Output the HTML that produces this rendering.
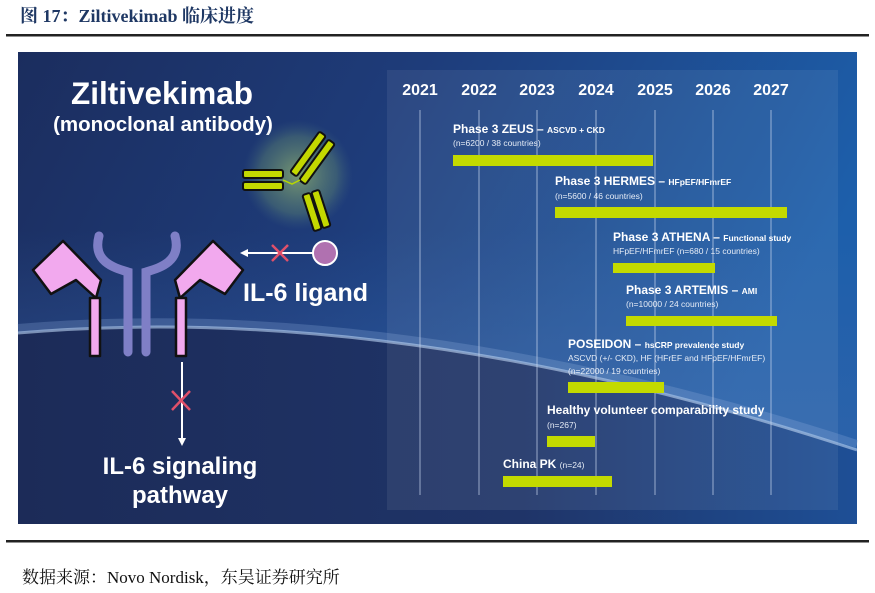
<!DOCTYPE html>
<html><head><meta charset="utf-8"><style>
html,body{margin:0;padding:0;background:#fff;width:875px;height:593px;overflow:hidden}
</style></head><body>
<svg width="875" height="593" viewBox="0 0 875 593" xmlns="http://www.w3.org/2000/svg" font-family="Liberation Sans, Arial, sans-serif">
<defs>
<linearGradient id="bg" x1="0" y1="0" x2="1" y2="0.3">
<stop offset="0" stop-color="#1b2d5e"/><stop offset="0.45" stop-color="#1e3c7a"/><stop offset="1" stop-color="#1d5fab"/>
</linearGradient>
<linearGradient id="low" x1="0" y1="0" x2="1" y2="0">
<stop offset="0" stop-color="#1c2b58"/><stop offset="0.6" stop-color="#1f3468"/><stop offset="1" stop-color="#1e4f96"/>
</linearGradient>
<radialGradient id="glow"><stop offset="0" stop-color="#9fc070" stop-opacity="0.7"/><stop offset="0.7" stop-color="#6f9a70" stop-opacity="0.35"/><stop offset="1" stop-color="#4a7080" stop-opacity="0"/></radialGradient>
<linearGradient id="up" x1="0" y1="0" x2="0" y2="1"><stop offset="0" stop-color="#3a66aa" stop-opacity="0"/><stop offset="1" stop-color="#3a66aa" stop-opacity="0.5"/></linearGradient>
</defs>
<text x="20" y="22" font-family="Liberation Serif, Noto Serif CJK SC, serif" font-weight="bold" font-size="18" fill="#1f3864">图 17：Ziltivekimab 临床进度</text>
<rect x="6" y="34" width="863" height="2.5" fill="#222"/>
<rect x="18" y="52" width="839" height="472" fill="url(#bg)"/>
<path d="M18,230 L857,230 L857,450 Q400,300 18,333 Z" fill="url(#up)"/>
<path d="M18,333 Q400,300 857,450 L857,524 L18,524 Z" fill="url(#low)"/>
<path d="M18,328 Q400,296 857,444" fill="none" stroke="#8fb0e0" stroke-width="8" opacity="0.25"/>
<path d="M18,333 Q400,300 857,450" fill="none" stroke="#b9d2f2" stroke-width="3" opacity="0.6"/>
<rect x="387" y="70" width="451" height="440" fill="#ffffff" opacity="0.07"/>
<g fill="#fff" font-weight="bold" font-size="16" text-anchor="middle">
<text x="420" y="95">2021</text><text x="479" y="95">2022</text><text x="537" y="95">2023</text><text x="596" y="95">2024</text><text x="655" y="95">2025</text><text x="713" y="95">2026</text><text x="771" y="95">2027</text>
</g>
<g stroke="#c8d6ee" stroke-width="1" opacity="0.7">
<line x1="420" y1="110" x2="420" y2="495"/><line x1="479" y1="110" x2="479" y2="495"/><line x1="537" y1="110" x2="537" y2="495"/><line x1="596" y1="110" x2="596" y2="495"/><line x1="655" y1="110" x2="655" y2="495"/><line x1="713" y1="110" x2="713" y2="495"/><line x1="771" y1="110" x2="771" y2="495"/>
</g>
<g fill="#c3da00">
<rect x="453" y="155" width="200" height="11"/>
<rect x="555" y="207" width="232" height="11"/>
<rect x="613" y="263" width="102" height="10"/>
<rect x="626" y="316" width="151" height="10"/>
<rect x="568" y="382" width="96" height="11"/>
<rect x="547" y="436" width="48" height="11"/>
<rect x="503" y="476" width="109" height="11"/>
</g>
<g fill="#fff">
<text x="453" y="133" font-size="12" font-weight="bold">Phase 3 ZEUS – <tspan font-size="8.5">ASCVD + CKD</tspan></text>
<text x="453" y="146" font-size="8.5" fill="#e6ecf6">(n=6200 / 38 countries)</text>
<text x="555" y="185" font-size="12" font-weight="bold">Phase 3 HERMES – <tspan font-size="8.5">HFpEF/HFmrEF</tspan></text>
<text x="555" y="199" font-size="8.5" fill="#e6ecf6">(n=5600 / 46 countries)</text>
<text x="613" y="241" font-size="12" font-weight="bold">Phase 3 ATHENA – <tspan font-size="8.5">Functional study</tspan></text>
<text x="613" y="254" font-size="8.5" fill="#e6ecf6">HFpEF/HFmrEF (n=680 / 15 countries)</text>
<text x="626" y="294" font-size="12" font-weight="bold">Phase 3 ARTEMIS – <tspan font-size="8.5">AMI</tspan></text>
<text x="626" y="307" font-size="8.5" fill="#e6ecf6">(n=10000 / 24 countries)</text>
<text x="568" y="348" font-size="12" font-weight="bold">POSEIDON – <tspan font-size="8.5">hsCRP prevalence study</tspan></text>
<text x="568" y="361" font-size="8.5" fill="#e6ecf6">ASCVD (+/- CKD), HF (HFrEF and HFpEF/HFmrEF)</text>
<text x="568" y="374" font-size="8.5" fill="#e6ecf6">(n=22000 / 19 countries)</text>
<text x="547" y="414" font-size="12" font-weight="bold">Healthy volunteer comparability study</text>
<text x="547" y="428" font-size="8.5" fill="#e6ecf6">(n=267)</text>
<text x="503" y="468" font-size="12" font-weight="bold">China PK <tspan font-size="8.5" font-weight="normal" fill="#e6ecf6">(n=24)</tspan></text>
</g>
<text x="162" y="104" fill="#fff" font-size="31.5" font-weight="bold" text-anchor="middle">Ziltivekimab</text>
<text x="163" y="131" fill="#fff" font-size="20.5" font-weight="bold" text-anchor="middle">(monoclonal antibody)</text>
<circle cx="298" cy="175" r="55" fill="url(#glow)"/>
<g fill="#c3d800" stroke="#111" stroke-width="2">
<rect x="243" y="170" width="40" height="8" rx="2"/>
<rect x="243" y="182" width="40" height="8" rx="2"/>
<rect x="283" y="150" width="50" height="8" rx="2" transform="rotate(-54 308 154)"/>
<rect x="292" y="158" width="50" height="8" rx="2" transform="rotate(-54 317 162)"/>
<rect x="293" y="208" width="38" height="8" rx="2" transform="rotate(72 312 212)"/>
<rect x="302" y="205" width="38" height="8" rx="2" transform="rotate(72 321 209)"/>
</g>
<path d="M283,180 L292,184 L300,180" stroke="#b8d800" stroke-width="1.5" fill="none"/>
<line x1="313" y1="253" x2="246" y2="253" stroke="#fff" stroke-width="2"/>
<path d="M240,253 L248,249 L248,257 Z" fill="#fff"/>
<circle cx="325" cy="253" r="12" fill="#b071b0" stroke="#fff" stroke-width="2"/>
<g stroke="#e0506a" stroke-width="2.5"><line x1="272" y1="245" x2="288" y2="261"/><line x1="288" y1="245" x2="272" y2="261"/></g>
<text x="243" y="301" fill="#fff" font-size="25" font-weight="bold">IL-6 ligand</text>
<g fill="none" stroke="#7f7fc6" stroke-width="9" stroke-linecap="round">
<path d="M99,236 C92,262 115,268 128,272 L128,352"/>
<path d="M175,236 C182,262 159,268 146,272 L146,352"/>
</g>
<g fill="#f2a9ee" stroke="#111" stroke-width="2.5" stroke-linejoin="round">
<path d="M33,270 L63,241 L101,280 L96,298 L76,280 L51,294 Z"/>
<rect x="90" y="298" width="10" height="58"/>
<path d="M243,270 L213,241 L175,280 L180,298 L200,280 L225,294 Z"/>
<rect x="176" y="298" width="10" height="58"/>
</g>
<line x1="182" y1="362" x2="182" y2="440" stroke="#fff" stroke-width="2"/>
<path d="M182,446 L178,438 L186,438 Z" fill="#fff"/>
<g stroke="#e0506a" stroke-width="2.5"><line x1="172" y1="391" x2="190" y2="410"/><line x1="190" y1="391" x2="172" y2="410"/></g>
<text x="180" y="474" fill="#fff" font-size="24" font-weight="bold" text-anchor="middle">IL-6 signaling</text>
<text x="180" y="503" fill="#fff" font-size="24" font-weight="bold" text-anchor="middle">pathway</text>
<rect x="6" y="540" width="863" height="2.5" fill="#222"/>
<text x="22" y="583" font-family="Liberation Serif, Noto Serif CJK SC, serif" font-size="17" fill="#111">数据来源：Novo Nordisk，东吴证券研究所</text>
</svg>
</body></html>
